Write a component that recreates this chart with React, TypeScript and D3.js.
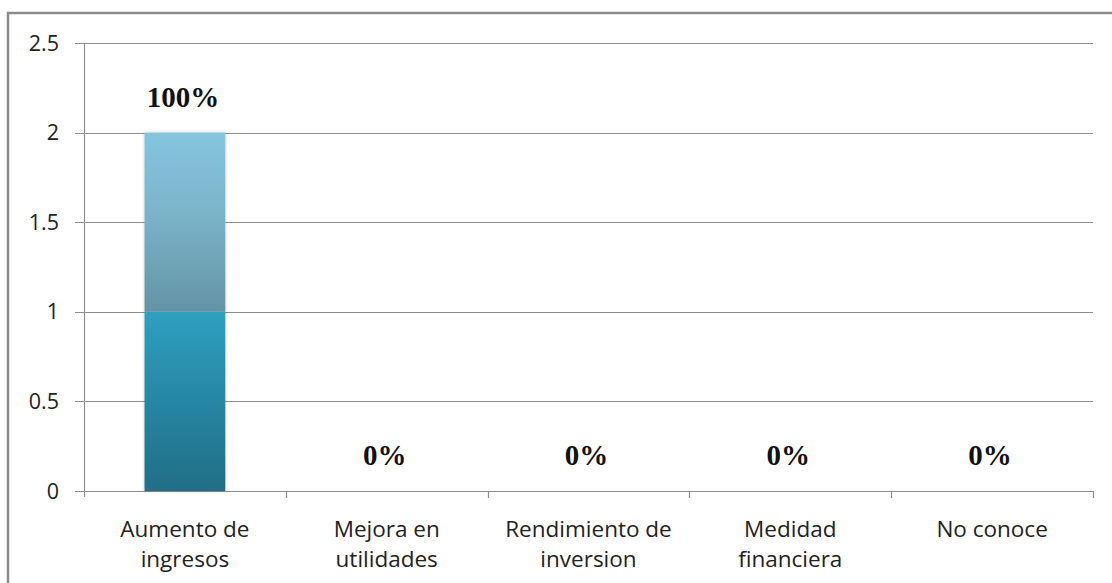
import React, { useEffect, useRef } from "react";
import * as d3 from "d3";

const categories: string[][] = [
  ["Aumento de", "ingresos"],
  ["Mejora en", "utilidades"],
  ["Rendimiento de", "inversion"],
  ["Medidad", "financiera"],
  ["No conoce"],
];
const seriesLower: number[] = [1, 0, 0, 0, 0];
const seriesUpper: number[] = [1, 0, 0, 0, 0];
const percentLabels: string[] = ["100%", "0%", "0%", "0%", "0%"];
const yTicks: number[] = [0, 0.5, 1, 1.5, 2, 2.5];

const W = 1112;
const H = 583;

export default function App() {
  const ref = useRef<SVGSVGElement | null>(null);

  useEffect(() => {
    const svg = d3.select(ref.current);
    svg.selectAll("*").remove();

    const left = 84, right = 1093, top = 43, bottom = 491;
    const x = d3.scaleBand<number>().domain(d3.range(categories.length)).range([left, right]).paddingInner(0).paddingOuter(0);
    const y = d3.scaleLinear().domain([0, 2.5]).range([bottom, top]);

    const defs = svg.append("defs");
    const gLow = defs.append("linearGradient").attr("id", "gLow").attr("x1", 0).attr("y1", 0).attr("x2", 0).attr("y2", 1);
    gLow.append("stop").attr("offset", "0%").attr("stop-color", "#2ea0c0");
    gLow.append("stop").attr("offset", "100%").attr("stop-color", "#206e87");
    const gUp = defs.append("linearGradient").attr("id", "gUp").attr("x1", 0).attr("y1", 0).attr("x2", 0).attr("y2", 1);
    gUp.append("stop").attr("offset", "0%").attr("stop-color", "#84c5de");
    gUp.append("stop").attr("offset", "40%").attr("stop-color", "#7db6cc");
    gUp.append("stop").attr("offset", "100%").attr("stop-color", "#6394a5");
    const f = defs.append("filter").attr("id", "sh").attr("x", "-20%").attr("y", "-5%").attr("width", "140%").attr("height", "110%");
    f.append("feDropShadow").attr("dx", 0).attr("dy", 0).attr("stdDeviation", 1.5).attr("flood-color", "#000").attr("flood-opacity", 0.25);

    // outer border
    svg.append("rect").attr("x", 8).attr("y", 13).attr("width", 1200).attr("height", 700)
      .attr("fill", "none").attr("stroke", "#8c8c8c").attr("stroke-width", 2.5);

    // gridlines
    svg.append("g").selectAll("line").data(yTicks).join("line")
      .attr("x1", left - 9).attr("x2", right)
      .attr("y1", (d) => Math.round(y(d)) + 0.5).attr("y2", (d) => Math.round(y(d)) + 0.5)
      .attr("stroke", "#8e8e8e").attr("stroke-width", 1.2);

    // y axis line
    svg.append("line").attr("x1", left + 0.5).attr("x2", left + 0.5).attr("y1", top).attr("y2", bottom + 6)
      .attr("stroke", "#8e8e8e").attr("stroke-width", 1.2);

    // x category ticks
    const bounds = d3.range(categories.length + 1).map((i) => left + i * x.bandwidth());
    svg.append("g").selectAll("line").data(bounds.slice(1)).join("line")
      .attr("x1", (d) => Math.round(d) + 0.5).attr("x2", (d) => Math.round(d) + 0.5)
      .attr("y1", bottom).attr("y2", bottom + 7)
      .attr("stroke", "#8e8e8e").attr("stroke-width", 1.2);

    // y tick labels
    svg.append("g").selectAll("text").data(yTicks).join("text")
      .attr("x", 59).attr("y", (d) => y(d) + 7.5)
      .attr("text-anchor", "end")
      .attr("font-family", "'Open Sans', sans-serif").attr("font-size", 21.5).attr("fill", "#222")
      .text((d) => String(d));

    // bars
    const bw = x.bandwidth() * 0.4;
    const barG = svg.append("g").attr("filter", "url(#sh)");
    categories.forEach((_, i) => {
      const cx = (x(i) as number) + x.bandwidth() / 2;
      if (seriesLower[i] > 0) {
        barG.append("rect").attr("x", cx - bw / 2).attr("width", bw)
          .attr("y", y(seriesLower[i])).attr("height", y(0) - y(seriesLower[i]))
          .attr("fill", "url(#gLow)");
      }
      if (seriesUpper[i] > 0) {
        const base = seriesLower[i];
        barG.append("rect").attr("x", cx - bw / 2).attr("width", bw)
          .attr("y", y(base + seriesUpper[i])).attr("height", y(base) - y(base + seriesUpper[i]))
          .attr("fill", "url(#gUp)");
      }
    });

    // percent labels
    svg.append("g").selectAll("text").data(percentLabels).join("text")
      .attr("x", (_, i) => (x(i) as number) + x.bandwidth() / 2 - 2)
      .attr("y", (_, i) => y(seriesLower[i] + seriesUpper[i]) - 26)
      .attr("text-anchor", "middle")
      .attr("font-family", "'Liberation Serif', 'Times New Roman', serif")
      .attr("font-weight", "bold").attr("font-size", 29).attr("fill", "#111")
      .text((d) => d);

    // category labels
    const catG = svg.append("g");
    categories.forEach((lines, i) => {
      const cx = (x(i) as number) + x.bandwidth() / 2;
      const t = catG.append("text").attr("text-anchor", "middle")
        .attr("font-family", "'Open Sans', sans-serif").attr("font-size", 22.5).attr("fill", "#222");
      lines.forEach((ln, j) => {
        t.append("tspan").attr("x", cx).attr("y", 537 + j * 30).text(ln);
      });
    });
  }, []);

  return (
    <svg ref={ref} width={W} height={H} style={{ position: "absolute", left: 0, top: 0, background: "#fff" }} />
  );
}
